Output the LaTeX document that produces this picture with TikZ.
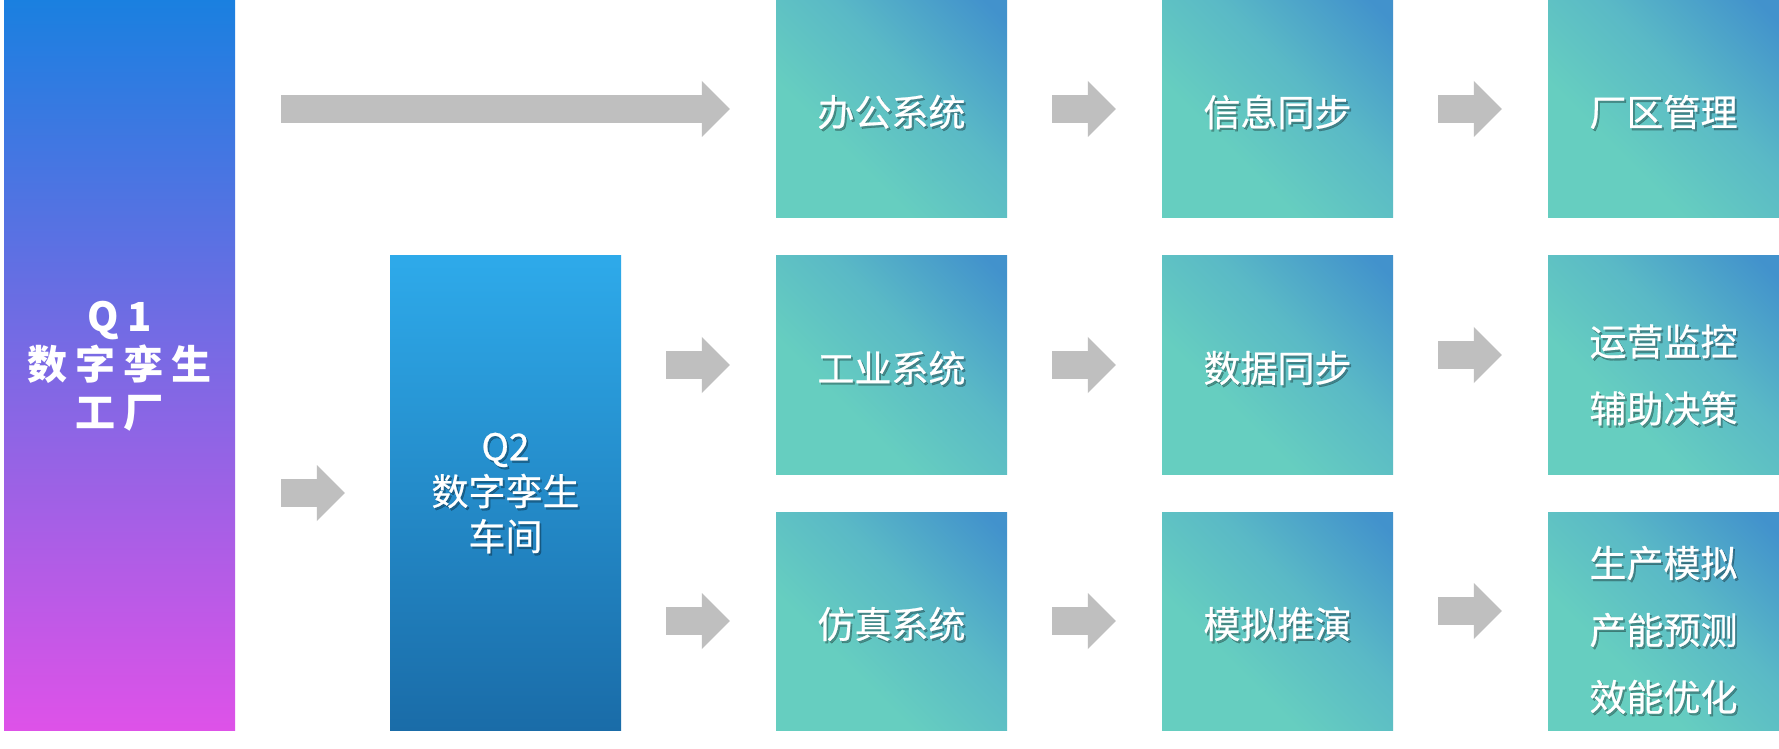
\documentclass[tikz,border=0pt]{standalone}
\usepackage{fontspec}
\setmainfont{Noto Sans CJK SC}
\newfontfamily\medfont[FakeBold=0.6]{Noto Sans CJK SC}
\usetikzlibrary{arrows.meta}
\definecolor{arrowgray}{HTML}{BFBFBF}
\definecolor{tealA}{HTML}{66CEC0}
\definecolor{tealM}{HTML}{5AB9C6}
\definecolor{tealB}{HTML}{4292CC}
\definecolor{qOneTop}{HTML}{1A80E0}
\definecolor{qOneMid}{HTML}{8C78E0}
\definecolor{qOneBot}{HTML}{DE52E8}
\definecolor{qTwoTop}{HTML}{2EAAEA}
\definecolor{qTwoBot}{HTML}{1A6CA8}
\pgfdeclarehorizontalshading{tealsh}{100bp}{color(0bp)=(tealA); color(36bp)=(tealA); color(58bp)=(tealM); color(82bp)=(tealB); color(100bp)=(tealB)}
\newcommand\ls{\hspace{8pt}}
% [options]{name}{box}{vertical shift}{text}
\newcommand\shtext[5][]{%
  \node[txt,#1,text=black,text opacity=.30] at ([xshift=1.8pt,yshift={#4-2.2pt}]#3.center) {#5};
  \node[txt,#1] (#2) at ([yshift=#4]#3.center) {#5};}
\begin{document}
\begin{tikzpicture}[x=1pt,y=1pt,
  tealbox/.style={rectangle, inner sep=0pt, minimum width=231pt, minimum height=218pt, shade, shading=tealsh, shading angle=45},
  txt/.style={text=white, inner sep=0pt, align=center, font=\medfont\fontsize{37}{67}\selectfont},
  bigarrow/.style={draw=arrowgray, line width=28pt, -{Triangle[length=28pt, width=56pt, line width=0pt]}}]
\useasboundingbox[fill=white] (0,0) rectangle (1779,748);
% main boxes
\node[rectangle, inner sep=0pt, minimum width=231pt, minimum height=730pt, shade, top color=qOneTop, middle color=qOneMid, bottom color=qOneBot] (q1) at (119.5,383) {};
\node[rectangle, inner sep=0pt, minimum width=231pt, minimum height=474pt, shade, top color=qTwoTop, bottom color=qTwoBot] (q2) at (505.5,255) {};
% grid boxes
\node[tealbox] (b11) at (891.5,639) {};
\node[tealbox] (b12) at (891.5,383) {};
\node[tealbox] (b13) at (891.5,127) {};
\node[tealbox] (b21) at (1277.5,639) {};
\node[tealbox] (b22) at (1277.5,383) {};
\node[tealbox] (b23) at (1277.5,127) {};
\node[tealbox] (b31) at (1663.5,639) {};
\node[tealbox] (b32) at (1663.5,383) {};
\node[tealbox] (b33) at (1663.5,127) {};
% texts
\node[txt, font=\rmfamily\bfseries\fontsize{40}{48}\selectfont] (q1t) at ([yshift=-1pt]q1.center) {Q\ls{}1\\数\ls{}字\ls{}孪\ls{}生\\工\ls{}厂};
\shtext[font=\medfont\fontsize{37}{45}\selectfont]{q2t}{q2}{0pt}{Q2\\数字孪生\\车间}
\shtext{t11}{b11}{-3pt}{办公系统}
\shtext{t12}{b12}{-3pt}{工业系统}
\shtext{t13}{b13}{-3pt}{仿真系统}
\shtext{t21}{b21}{-3pt}{信息同步}
\shtext{t22}{b22}{-3pt}{数据同步}
\shtext{t23}{b23}{-3pt}{模拟推演}
\shtext{t31}{b31}{-3pt}{厂区管理}
\shtext{t32}{b32}{-10pt}{运营监控\\辅助决策}
\shtext{t33}{b33}{-9pt}{生产模拟\\产能预测\\效能优化}
% arrows
\draw[bigarrow] ([xshift=46pt]q1.east |- b11.west) -- ([xshift=-46pt]b11.west);
\draw[bigarrow] ([xshift=46pt]q1.east |- q2.west) -- ([xshift=-45pt]q2.west);
\draw[bigarrow] ([xshift=45pt]q2.east |- b12.west) -- ([xshift=-46pt]b12.west);
\draw[bigarrow] ([xshift=45pt]q2.east |- b13.west) -- ([xshift=-46pt]b13.west);
\draw[bigarrow] ([xshift=45pt]b11.east) -- ([xshift=-46pt]b21.west);
\draw[bigarrow] ([xshift=45pt]b12.east) -- ([xshift=-46pt]b22.west);
\draw[bigarrow] ([xshift=45pt]b13.east) -- ([xshift=-46pt]b23.west);
\draw[bigarrow] ([xshift=45pt]b21.east) -- ([xshift=-46pt]b31.west);
\draw[bigarrow] ([xshift=45pt,yshift=10pt]b22.east) -- ([xshift=-46pt,yshift=10pt]b32.west);
\draw[bigarrow] ([xshift=45pt,yshift=10pt]b23.east) -- ([xshift=-46pt,yshift=10pt]b33.west);
\end{tikzpicture}
\end{document}
